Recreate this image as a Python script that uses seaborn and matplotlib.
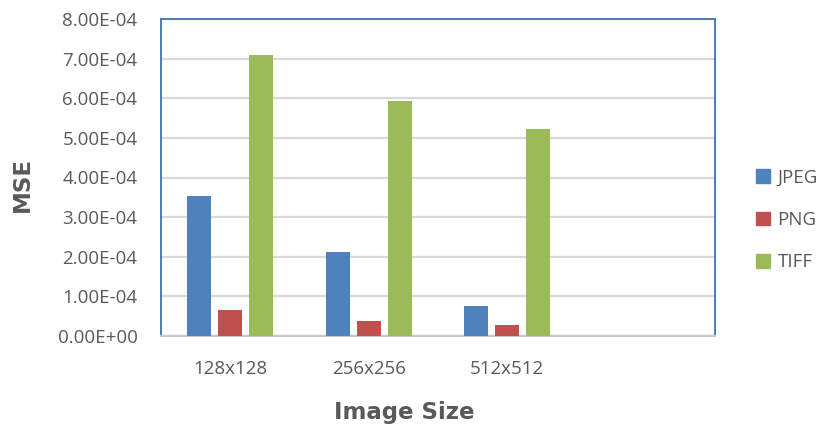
import matplotlib
matplotlib.use("Agg")
import matplotlib.pyplot as plt
import matplotlib.ticker as mticker
import seaborn as sns
import pandas as pd

# MSE per image size and file format
sizes = ["128x128", "256x256", "512x512"]
formats = ["JPEG", "PNG", "TIFF"]
jpeg = [3.54e-4, 2.12e-4, 0.75e-4]
png = [0.65e-4, 0.39e-4, 0.29e-4]
tiff = [7.10e-4, 5.94e-4, 5.23e-4]
colors = ["#4F81BD", "#C0504D", "#9BBB59"]

df = pd.DataFrame({
    "size": sizes * 3,
    "fmt": [f for f in formats for _ in sizes],
    "mse": jpeg + png + tiff,
})

sns.set_theme(style="white")
plt.rcParams["font.family"] = ["Open Sans", "DejaVu Sans"]

fig = plt.figure(figsize=(8.24, 4.32), dpi=100)
ax = fig.add_axes([161 / 824, 1 - 336 / 432, 554 / 824, 317 / 432])

sns.barplot(data=df, x="size", y="mse", hue="fmt", hue_order=formats,
            palette=colors, saturation=1, width=0.667, gap=0.22,
            linewidth=0, ax=ax, legend=False, zorder=3)

# leave room for an empty fourth category slot on the right
ax.set_xlim(-0.5, 3.5)
ax.set_ylim(0, 8e-4)
ax.yaxis.set_major_locator(mticker.MultipleLocator(1e-4))
ax.yaxis.set_major_formatter(mticker.FuncFormatter(lambda v, _: f"{v:.2E}"))
ax.grid(axis="y", color="#D9D9D9", linewidth=1.6, zorder=0)
ax.set_axisbelow(True)

for side in ("left", "top", "right"):
    ax.spines[side].set_color("#4A7EBB")
    ax.spines[side].set_linewidth(1.4)
ax.spines["bottom"].set_color("#C3CAD3")
ax.spines["bottom"].set_linewidth(1.6)

ax.tick_params(axis="both", length=0, labelsize=13.5, colors="#595959")
ax.tick_params(axis="y", pad=17)
ax.tick_params(axis="x", pad=17)

ax.set_xlabel("")
ax.set_ylabel("")
title_font = dict(family="DejaVu Sans", fontsize=16.5, fontweight="bold",
                  color="#595959")
fig.text(404 / 824, 1 - 412 / 432, "Image Size", ha="center", va="center",
         **title_font)
fig.text(22 / 824, 1 - 185 / 432, "MSE", ha="center", va="center",
         rotation=90, **title_font)

handles = [plt.Rectangle((0, 0), 1, 1, color=c) for c in colors]
fig.legend(handles, formats, loc="center left",
           bbox_to_anchor=(756 / 824, 1 - 220 / 432), frameon=False,
           fontsize=13.5, labelcolor="#595959", handlelength=0.75,
           handleheight=0.75, handletextpad=0.4, labelspacing=1.3,
           borderaxespad=0, borderpad=0)

fig.savefig("out.png", dpi=100)
